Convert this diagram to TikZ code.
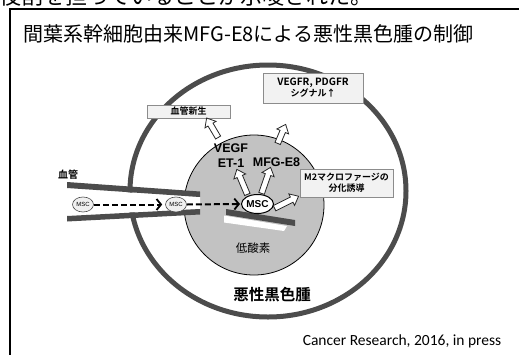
\documentclass[tikz,border=0pt]{standalone}
\usepackage{fontspec}
\setmainfont{Liberation Sans}
\newfontfamily\jp{Noto Sans CJK JP}[BoldFont={Noto Sans CJK JP Bold}]
\newfontfamily\citefont{Carlito}
\usetikzlibrary{shapes.geometric,shapes.arrows,arrows.meta,calc,shadows}

\definecolor{ringgray}{gray}{0.30}
\definecolor{hypgray}{gray}{0.76}
\definecolor{boxfill}{gray}{0.95}
\definecolor{boxline}{gray}{0.55}

% hollow block arrow between two named points
\newcommand{\blockarrow}[2]{%
  \path let \p1=(#1), \p2=(#2),
            \n1={atan2(\y2-\y1,\x2-\x1)},
            \n2={veclen(\x2-\x1,\y2-\y1)} in
    node[hollowarrow, minimum height=\n2, rotate=\n1] at ($(#1)!0.5!(#2)$) {};}

\begin{document}
\begin{tikzpicture}[x=1pt,y=-1pt,
  ring/.style={draw=ringgray, line width=5pt},
  wall/.style={fill=ringgray},
  smallmsc/.style={ellipse, draw=gray!60!black, fill=gray!12, line width=0.6pt,
    minimum width=21pt, minimum height=15pt, inner sep=0pt,
    font=\fontsize{6}{6}\selectfont},
  bigmsc/.style={ellipse, draw=black, fill=white, line width=1pt,
    minimum width=32pt, minimum height=19pt, inner sep=0pt,
    font=\bfseries\fontsize{10}{11}\selectfont},
  migrate/.style={line width=2pt, dash pattern=on 6pt off 3pt,
    -{Straight Barb[length=4.5pt,width=11pt,line width=1.8pt]}},
  hollowarrow/.style={single arrow, draw=black!85, fill=white, line width=0.8pt,
    inner sep=2.5pt, minimum width=12pt, single arrow head extend=3.5pt,
    single arrow tip angle=80},
  infobox/.style={draw=boxline, fill=boxfill, line width=0.7pt, inner sep=1pt,
    align=center, font=\jp\bfseries\fontsize{9}{11}\selectfont,
    drop shadow={shadow xshift=1pt, shadow yshift=-1pt, fill=gray!55, opacity=1}},
  factor/.style={font=\bfseries\fontsize{12.5}{14.5}\selectfont, align=center, inner sep=0pt}
]
\useasboundingbox (0,0) rectangle (519,354);

% sentence running off the top edge
\begin{scope}
  \clip (0,0) rectangle (519,7.5);
  \node[anchor=base west, inner sep=0pt, font=\jp\fontsize{22}{22}\selectfont] (lead) at (-1,4)
    {役割を担っていることが示唆された。};
\end{scope}

% slide frame
\draw[line width=2pt] (10,356) -- (10,9) -- (521,9);

% title
\node[anchor=west, inner sep=0pt, font=\jp\fontsize{20}{24}\selectfont] (title) at (23,34)
  {間葉系幹細胞由来MFG-E8による悪性黒色腫の制御};

% tumour and hypoxic core
\node[ellipse, ring, minimum width=276pt, minimum height=252pt, inner sep=0pt] (tumor) at (268,191) {};
\node[circle, draw=black, fill=hypgray, line width=0.8pt, minimum size=140pt, inner sep=0pt] (core) at (254,205) {};

% blood vessel entering the tumour
\fill[white] (60,188) -- (200,197) -- (200,209) -- (60,216) -- cycle;
\fill[wall] (67,182) -- (200,191.5) -- (200,197) -- (67,188) -- cycle;
\fill[wall] (67,216) -- (200,209) -- (200,214.5) -- (67,221.5) -- cycle;
\node[font=\jp\bfseries\fontsize{10}{11}\selectfont, inner sep=0pt] (vessel) at (68,175) {血管};

% broken vessel end inside the core
\fill[wall] (226,209) -- (295,220) -- (295,226) -- (226,215) -- cycle;
\fill[white] (224,215.5) -- (287,226) -- (284,231) -- (224,222.5) -- cycle;

% stem cells
\node[smallmsc] (msc1) at (83,204.5) {MSC};
\node[smallmsc] (msc2) at (176,204.5) {MSC};
\node[bigmsc] (msc3) at (257.5,204) {MSC};
\draw[migrate] (msc1.east) -- ($(msc2.west)+(-3,0)$);
\draw[migrate] (msc2.east) -- ($(msc3.west)+(-1,0)$);

% secreted factors
\node[factor] (vegf) at (231,155.5) {VEGF\\ET-1};
\node[factor] (mfg) at (276.5,162) {MFG-E8};

% effect boxes
\node[infobox, minimum width=83pt, minimum height=13pt] (angio) at (188.5,111.5) {血管新生};
\node[infobox, minimum width=100pt, minimum height=30pt] (signal) at (313,88)
  {\fontsize{10}{12}\selectfont VEGFR, PDGFR\\シグナル↑};
\node[infobox, minimum width=93pt, minimum height=28pt] (m2) at (346.5,183)
  {M2マクロファージの\\分化誘導};

% labels
\node[font=\jp\fontsize{11.5}{12}\selectfont, inner sep=0pt] (hypoxia) at (253,248) {低酸素};
\node[font=\jp\bfseries\fontsize{15.5}{16}\selectfont, inner sep=0pt] (melanoma) at (272,295) {悪性黒色腫};
\node[font=\citefont\fontsize{15.5}{16}\selectfont, inner sep=0pt] (cite) at (402,341)
  {Cancer Research, 2016, in press};

% arrow end points
\coordinate (a1s) at (248,196);
\coordinate (a1e) at (237.5,171);
\coordinate (a2s) at (261,195);
\coordinate (a2e) at (270,169);
\coordinate (a3s) at (273,209);
\coordinate (a3e) at (297,197);
\coordinate (a4s) at (219,139);
\coordinate (a4e) at (207.5,119.5);
\coordinate (a5s) at (277,145);
\coordinate (a5e) at (285,126);
\blockarrow{a1s}{a1e}
\blockarrow{a2s}{a2e}
\blockarrow{a3s}{a3e}
\blockarrow{a4s}{a4e}
\blockarrow{a5s}{a5e}
\end{tikzpicture}
\end{document}
